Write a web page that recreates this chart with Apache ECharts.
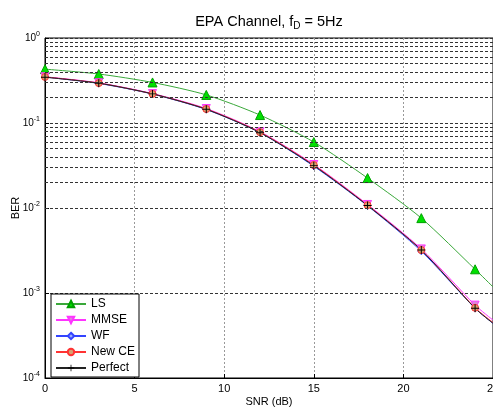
<!DOCTYPE html>
<html>
<head>
<meta charset="utf-8">
<script src="https://cdn.jsdelivr.net/npm/echarts@6/dist/echarts.min.js"></script>
<style>html,body{margin:0;padding:0;background:#fff;}#c{width:493px;height:408px;}</style>
</head>
<body>
<div id="c"></div>
<script>
var snr = [0, 3, 6, 9, 12, 15, 18, 21, 24, 25];
var berLS = [0.43, 0.377, 0.30, 0.214, 0.124, 0.0597, 0.0225, 0.0076, 0.0019, 0.00118];
var berMMSE = [0.35, 0.297, 0.222, 0.148, 0.079, 0.0325, 0.011, 0.0033, 0.00072, 0.00048];
var berWF = [0.347, 0.292, 0.219, 0.144, 0.077, 0.031, 0.0106, 0.0031, 0.00066, 0.00044];
var berNewCE = [0.348, 0.295, 0.220, 0.146, 0.078, 0.032, 0.0108, 0.0032, 0.00067, 0.00045];
var berPerfect = [0.346, 0.294, 0.220, 0.145, 0.077, 0.0315, 0.0107, 0.0032, 0.00066, 0.00044];
var minorGrid = [];
[-4, -3, -2, -1].forEach(function (e) {
  for (var k = 2; k <= 9; k++) minorGrid.push(k * Math.pow(10, e));
});

var FONT = 'Liberation Sans, Arial, sans-serif';
function mk(vals) {
  return snr.map(function (x, i) {
    var d = { value: [x, vals[i]] };
    if (x % 3 !== 0) d.symbol = 'none';
    return d;
  });
}
var plusPath = 'path://M-0.6,-5L0.6,-5L0.6,5L-0.6,5Z M-5,-0.6L5,-0.6L5,0.6L-5,0.6Z';
function ser(name, vals, lineColor, symbol, size, fill, border, extra) {
  var s = {
    name: name, type: 'line', data: mk(vals), smooth: 0.25,
    symbol: symbol, symbolSize: size, showAllSymbol: true,
    lineStyle: { color: lineColor, width: 1 },
    itemStyle: { color: fill, borderColor: border, borderWidth: 1 },
    emphasis: { disabled: true }, animation: false
  };
  if (extra) for (var k in extra) s[k] = extra[k];
  return s;
}

var chart = echarts.init(document.getElementById('c'), null, { renderer: 'canvas' });
chart.setOption({
  backgroundColor: '#fff',
  animation: false,
  textStyle: { fontFamily: FONT },
  title: {
    text: '{a|EPA Channel, f}{s|D}{a| = 5Hz}',
    left: 264, top: 8, textAlign: 'center',
    textStyle: {
      fontWeight: 'normal',
      rich: {
        a: { fontSize: 14.5, fontFamily: FONT, color: '#000', fontWeight: 'normal' },
        s: { fontSize: 10, fontFamily: FONT, color: '#000', fontWeight: 'normal', padding: [8, 0, 0, 0] }
      }
    }
  },
  grid: { left: 45, right: 0, top: 38, bottom: 30, show: true, borderColor: '#000', borderWidth: 1, containLabel: false, outerBoundsMode: 'none' },
  legend: {
    orient: 'vertical', left: 51, top: 294,
    itemWidth: 30, itemHeight: 8, itemGap: 4,
    padding: [4, 4, 3, 4],
    borderColor: '#000', borderWidth: 1, backgroundColor: '#fff',
    textStyle: { fontSize: 12, color: '#000', fontFamily: FONT },
    data: ['LS', 'MMSE', 'WF', 'New CE', 'Perfect']
  },
  xAxis: {
    type: 'value', min: 0, max: 25, interval: 5,
    name: 'SNR (dB)', nameLocation: 'middle', nameGap: 18, nameMoveOverlap: false,
    nameTextStyle: { fontSize: 11, color: '#000', fontFamily: FONT },
    axisLine: { lineStyle: { color: '#000' } },
    axisTick: { inside: true, length: 4, lineStyle: { color: '#000' } },
    axisLabel: { fontSize: 11, color: '#000', margin: 5, fontFamily: FONT, hideOverlap: false },
    splitLine: { show: true, lineStyle: { type: [2, 2], color: '#999', width: 1 } }
  },
  yAxis: {
    type: 'log', logBase: 10, min: 1e-4, max: 1, interval: 1,
    name: 'BER', nameLocation: 'middle', nameGap: 24, nameRotate: 90, nameMoveOverlap: false,
    nameTextStyle: { fontSize: 11, color: '#000', fontFamily: FONT },
    axisLine: { lineStyle: { color: '#000' } },
    axisTick: { inside: true, length: 4, lineStyle: { color: '#000' } },
    axisLabel: {
      margin: 5, color: '#000',
      formatter: function (v) {
        var e = Math.round(Math.log10(v));
        return '{b|10}{s|' + e + '}';
      },
      rich: {
        b: { fontSize: 10, fontFamily: FONT, color: '#000' },
        s: { fontSize: 7, fontFamily: FONT, color: '#000', padding: [0, 0, 7, 0] }
      }
    },
    splitLine: { show: true, lineStyle: { type: [3, 2], color: '#333', width: 1 } }
  },
  series: [
    ser('LS', berLS, '#3aa83a', 'triangle', 9, '#00e000', '#00a000', {
      markLine: {
        silent: true, symbol: 'none', label: { show: false }, animation: false,
        lineStyle: { type: [3, 2], color: '#333', width: 1 },
        data: minorGrid.map(function (v) { return { yAxis: v }; })
      }
    }),
    ser('MMSE', berMMSE, '#ff33ff', 'path://M-5,-4L5,-4L0,5Z', 8, '#d98ad9', '#ff33ff'),
    ser('WF', berWF, '#3344ff', 'diamond', 7, '#9fb0ff', '#3344ff'),
    ser('New CE', berNewCE, '#ff3333', 'circle', 7, '#d9a070', '#ff3333'),
    ser('Perfect', berPerfect, '#222222', plusPath, 8, '#000', '#000', { itemStyle: { color: '#000', borderWidth: 0 } })
  ]
});
</script>
</body>
</html>
